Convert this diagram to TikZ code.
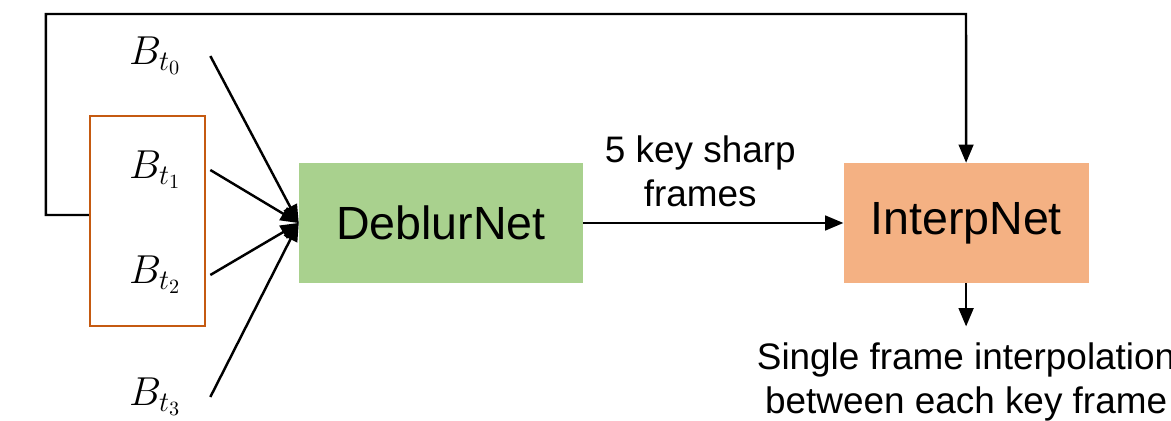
\documentclass[tikz,border=0pt]{standalone}
\usepackage{fix-cm}
\usepackage{fontspec}
\setmainfont{Liberation Sans}
\setsansfont{Liberation Sans}
\usepackage{xcolor}
\usepackage{tikz}
\usetikzlibrary{positioning}
\usetikzlibrary{arrows}

\definecolor{netgreen}{HTML}{A9D18E}
\definecolor{netorange}{HTML}{F4B183}
\definecolor{grporange}{HTML}{C55A11}

\begin{document}
\begin{tikzpicture}[x=0.02cm,y=-0.02cm,>=triangle 45,font=\sffamily,
    blur/.style={minimum width=2.2cm,inner sep=0pt,font=\fontsize{23}{27}\selectfont},
    net/.style={minimum height=2.4cm,inner sep=0pt,font=\sffamily\fontsize{26.5}{30}\selectfont},
    note/.style={align=center,font=\sffamily\fontsize{21}{25}\selectfont}]
      \useasboundingbox (0,0) rectangle (1171,421);
      \node (grp) [draw=grporange,line width=1.4pt,minimum width=2.3cm,minimum height=4.2cm] at (147.5,221) {};
      \node (b0) [blur] at (155,56)  {$B_{t_0}$};
      \node (b1) [blur] at (155,170) {$B_{t_1}$};
      \node (b2) [blur] at (155,275) {$B_{t_2}$};
      \node (b3) [blur] at (155,397) {$B_{t_3}$};
      \node (deblur) [net,fill=netgreen,minimum width=5.68cm] at (441,223) {DeblurNet};
      \node (interp) [net,fill=netorange,minimum width=4.9cm,right=5.2cm of deblur] {InterpNet};
      \node (out) [note,inner ysep=9pt,below=0.86cm of interp] {Single frame interpolation\\between each key frame};
      \coordinate (loop) at (966,14);
      \foreach \b in {b0,b1,b2,b3}
        \draw [line width=1.4pt,->] (\b.east) -- (deblur.west);
      \draw [line width=1.4pt,->] (deblur) -- node [note,pos=0.45,above=5pt] {5 key sharp\\frames} (interp);
      \draw [line width=1.4pt,->] ([yshift=0.12cm]grp.west) -- ++(-43,0) |- (loop) -- (interp.north);
      \draw [line width=1.4pt,->] (interp.south) -- (out.north);
    \end{tikzpicture}
\end{document}
